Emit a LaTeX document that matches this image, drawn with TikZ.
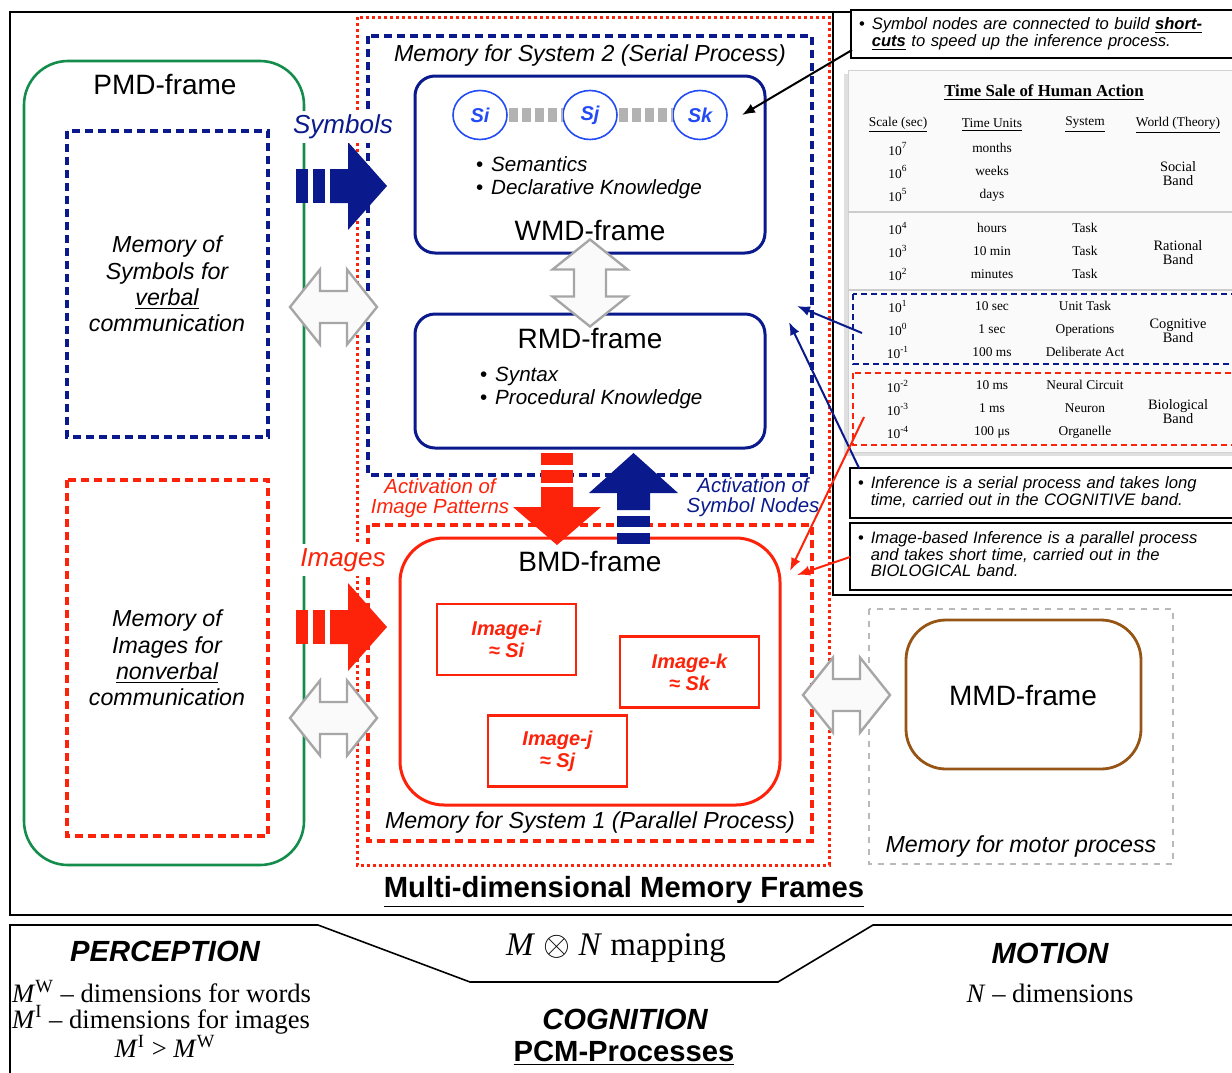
\documentclass[tikz,border=0pt]{standalone}
\usepackage{fontspec}
\setmainfont{Liberation Serif}
\setsansfont{Liberation Sans}
\usetikzlibrary{shapes.geometric,arrows.meta}

\definecolor{azul}{RGB}{10,25,140}
\definecolor{celeste}{RGB}{35,75,245}
\definecolor{rojo}{RGB}{252,35,10}
\definecolor{verde}{RGB}{20,140,75}
\definecolor{cafe}{RGB}{150,85,20}

\newcommand{\fsz}[2]{\fontsize{#1}{#2}\selectfont}
\newcommand{\dimsup}[1]{\textit{M}\smash{\textsuperscript{#1}}}
\newcommand{\dobleflecha}[3]{\draw[dbl, shift={(#1,#2)}, rotate=#3] (-43.5,0) -- (-13.5,-37.5) -- (-13.5,-16) -- (13.5,-16) -- (13.5,-37.5) -- (43.5,0) -- (13.5,37.5) -- (13.5,16) -- (-13.5,16) -- (-13.5,37.5) -- cycle;}

\begin{document}
\begin{tikzpicture}[x=0.5pt,y=-0.5pt]
		\tikzstyle{every node}=[font=\sffamily, inner sep=0pt, outer sep=0pt]
		\tikzstyle{titl} = [font=\sffamily\fsz{14}{16}]
		\tikzstyle{ital} = [font=\sffamily\itshape\fsz{11.6}{13.2}]
		\tikzstyle{dashbox} = [line width=1.7pt, dash pattern=on 4pt off 2.5pt]
		\tikzstyle{dotbox} = [draw=rojo, line width=1.5pt, dash pattern=on 1.4pt off 1.6pt]
		\tikzstyle{wblock} = [draw=azul, line width=1.5pt, rounded corners=10pt, minimum width=175pt]
		\tikzstyle{sym} = [ellipse, draw=celeste, line width=0.8pt, minimum width=27pt, minimum height=24.5pt, text=celeste, font=\sffamily\bfseries\itshape\fsz{10}{12}]
		\tikzstyle{imgbox} = [draw=rojo, line width=1.3pt, minimum width=69.5pt, minimum height=35.5pt, align=center, text=rojo, font=\sffamily\bfseries\itshape\fsz{10}{11}]
		\tikzstyle{note} = [draw, line width=0.8pt, fill=white, text width=187pt, inner xsep=4pt, align=left, font=\sffamily\itshape\fsz{8.3}{7.6}]
		\tikzstyle{cell} = [align=center, font=\rmfamily\fsz{6.7}{11.5}]
		\tikzstyle{band} = [align=center, font=\rmfamily\fsz{7.2}{7}]
		\tikzstyle{dbl} = [draw=gray!70, fill=gray!4, line width=1.2pt]
		\tikzstyle{arr} = [->, line width=1pt, >={Latex[length=6.5pt,width=5pt]}]
		\tikzstyle{big} = [font=\sffamily\bfseries\itshape\fsz{14.6}{16}]
		\tikzstyle{serif} = [font=\rmfamily\fsz{13.3}{12.6}]

		\useasboundingbox (0,0) rectangle (1232,1072);
		% outer frames
		\draw[line width=0.8pt] (10,12) rectangle (1245,915);
		\draw[line width=0.8pt] (10,1080) -- (10,925) -- (318,925) -- (470,982) -- (778,982) -- (873,925) -- (1245,925);

		% PMD-frame
		\node[draw=verde, line width=1.3pt, rounded corners=22pt, minimum width=140pt, minimum height=402pt] (pmd) at (164,463) {};
		\node[titl] (pmdt) at (165,85) {PMD-frame};
		\draw[dashbox, draw=azul] (67,131) rectangle (268,437);
		\draw[dashbox, draw=rojo] (67,480) rectangle (268,836);
		\node[ital, align=center] (verb) at (167,284) {Memory of\\Symbols for\\\underline{verbal}\\communication};
		\node[ital, align=center] (nverb) at (167,658) {Memory of\\Images for\\\underline{nonverbal}\\communication};

		% system 2 / system 1
		\draw[dotbox] (357,17) rectangle (829,865);
		\draw[dashbox, draw=azul] (368,36) rectangle (812,475);
		\draw[dashbox, draw=rojo] (368,525) rectangle (812,841);
		\node[ital] (sys2) at (590,55) {Memory for System 2 (Serial Process)};
		\node[ital] (sys1) at (590,822) {Memory for System 1 (Parallel Process)};

		\node[wblock, minimum height=88.5pt] (wmd) at (590,164.5) {};
		\node[sym] (si) at (480,115) {Si};
		\node[sym] (sj) at (590,115) {Sj};
		\node[sym] (sk) at (700,115) {Sk};
		\draw[gray!60, line width=7pt, dash pattern=on 4.5pt off 2pt, shorten <=1pt] (si) -- (sj);
		\draw[gray!60, line width=7pt, dash pattern=on 4.5pt off 2pt, shorten <=1pt] (sj) -- (sk);
		\node[anchor=west, align=left, font=\sffamily\itshape\fsz{10.3}{11.5}] (wmdl) at (476,178) {{\upshape\textbullet}\hspace{4pt}Semantics\\{\upshape\textbullet}\hspace{4pt}Declarative Knowledge};
		\node[titl] (wmdt) at (590,230) {WMD-frame};

		\node[wblock, minimum height=67pt] (rmd) at (590,381) {};
		\node[titl] (rmdt) at (590,338) {RMD-frame};
		\node[anchor=west, align=left, font=\sffamily\itshape\fsz{10.3}{11.5}] (rmdl) at (480,388) {{\upshape\textbullet}\hspace{4pt}Syntax\\{\upshape\textbullet}\hspace{4pt}Procedural Knowledge};
		\dobleflecha{590}{283}{90}

		\node[draw=rojo, line width=1.5pt, rounded corners=22pt, minimum width=190pt, minimum height=133.5pt] (bmd) at (590,671.5) {};
		\node[titl] (bmdt) at (590,561) {BMD-frame};
		\node[imgbox] (imgi) at (506.5,639.5) {Image-i\\≈ Si};
		\node[imgbox] (imgk) at (689.5,672) {Image-k\\≈ Sk};
		\node[imgbox] (imgj) at (557.5,751) {Image-j\\≈ Sj};

		% activation arrows
		\fill[rojo] (541,453) rectangle (573,465);
		\fill[rojo] (541,470) rectangle (573,483);
		\fill[rojo] (541,487) -- (573,487) -- (573,507) -- (601,507) -- (557,545) -- (513,507) -- (541,507) -- cycle;
		\fill[azul] (617,516) rectangle (650,527);
		\fill[azul] (617,533) rectangle (650,544);
		\fill[azul] (617,510) -- (650,510) -- (650,493) -- (678,493) -- (633.5,453) -- (589,493) -- (617,493) -- cycle;
		\node[align=center, text=rojo, font=\sffamily\itshape\fsz{10.2}{10}] (actimg) at (440,498) {Activation of\\Image Patterns};
		\node[align=center, text=azul, font=\sffamily\itshape\fsz{10.2}{10}] (actsym) at (753,497) {Activation of\\Symbol Nodes};

		% input arrows
		\fill[azul] (296,169) rectangle (308,203);
		\fill[azul] (313,169) rectangle (325,203);
		\fill[azul] (330,169) -- (348,169) -- (348,142) -- (387,186) -- (348,230) -- (348,203) -- (330,203) -- cycle;
		\fill[rojo] (296,610) rectangle (308,644);
		\fill[rojo] (313,610) rectangle (325,644);
		\fill[rojo] (330,610) -- (348,610) -- (348,583) -- (387,627) -- (348,671) -- (348,644) -- (330,644) -- cycle;
		\node[fill=white, inner ysep=2pt, text=azul, font=\sffamily\itshape\fsz{13}{15}] (symb) at (343,127) {Symbols};
		\node[fill=white, inner ysep=2pt, text=rojo, font=\sffamily\itshape\fsz{13}{15}] (imgs) at (343,560) {Images};
		\dobleflecha{333.5}{307}{0}
		\dobleflecha{333.5}{718}{0}

		% motor
		\draw[gray!55, line width=1.3pt, dash pattern=on 3pt off 3pt] (869,609) rectangle (1173,864);
		\node[draw=cafe, line width=1.4pt, rounded corners=20pt, minimum width=117.5pt, minimum height=74.5pt] (mmd) at (1023.5,694.5) {};
		\node[titl] (mmdt) at (1023,695) {MMD-frame};
		\node[ital] (motor) at (1021,846) {Memory for motor process};
		\dobleflecha{846.5}{695}{0}

		\node[font=\sffamily\bfseries\fsz{14.6}{16}] (mdmf) at (624,892) {\underline{Multi-dimensional Memory Frames}};

		% side panel
		\draw[line width=0.8pt, fill=white] (833,12) rectangle (1245,595);
		\fill[gray!25] (844,74) rectangle (1245,456);
		\draw[gray!35, fill=gray!4] (848,70) rectangle (1245,452);
		\node[font=\rmfamily\bfseries\fsz{8.4}{10}] (ttit) at (1044,93) {\underline{Time Sale of Human Action}};
		\node[cell] (h1) at (898,125) {\underline{Scale (sec)}};
		\node[cell] (h2) at (992,125) {\underline{Time Units}};
		\node[cell] (h3) at (1085,125) {\underline{System}};
		\node[cell] (h4) at (1178,125) {\underline{World (Theory)}};
		\node[cell] (sc1) at (898,172) {10\textsuperscript{7}\\10\textsuperscript{6}\\10\textsuperscript{5}};
		\node[cell] (un1) at (992,172) {months\\weeks\\days};
		\node[band] (bd1) at (1178,174) {Social\\Band};
		\draw[gray!40, line width=0.6pt] (848,212) -- (1245,212);
		\node[cell] (sc2) at (898,251) {10\textsuperscript{4}\\10\textsuperscript{3}\\10\textsuperscript{2}};
		\node[cell] (un2) at (992,251) {hours\\10 min\\minutes};
		\node[cell] (sy2) at (1085,251) {Task\\Task\\Task};
		\node[band] (bd2) at (1178,253) {Rational\\Band};
		\draw[gray!40, line width=0.6pt] (848,290) -- (1245,290);
		\draw[azul, line width=1.4pt, dash pattern=on 3pt off 2pt] (853,294) rectangle (1245,364);
		\node[cell] (sc3) at (898,329) {10\textsuperscript{1}\\10\textsuperscript{0}\\10\textsuperscript{-1}};
		\node[cell] (un3) at (992,329) {10 sec\\1 sec\\100 ms};
		\node[cell] (sy3) at (1085,329) {Unit Task\\Operations\\Deliberate Act};
		\node[band] (bd3) at (1178,331) {Cognitive\\Band};
		\draw[rojo, line width=1.4pt, dash pattern=on 3pt off 2pt] (853,373) rectangle (1245,445);
		\node[cell] (sc4) at (898,409.5) {10\textsuperscript{-2}\\10\textsuperscript{-3}\\10\textsuperscript{-4}};
		\node[cell] (un4) at (992,409.5) {10 ms\\1 ms\\100 μs};
		\node[cell] (sy4) at (1085,409.5) {Neural Circuit\\Neuron\\Organelle};
		\node[band] (bd4) at (1178,412) {Biological\\Band};

		\node[note, minimum height=24pt] (n1) at (1046,34) {\begin{tabular}{@{}l@{\hspace{3.5pt}}l@{}}{\upshape\textbullet}&Symbol nodes are connected to build \textbf{\underline{short-}}\\&\textbf{\underline{cuts}} to speed up the inference process.\end{tabular}};
		\node[note, minimum height=25pt] (n2) at (1045,493) {\begin{tabular}{@{}l@{\hspace{3.5pt}}l@{}}{\upshape\textbullet}&Inference is a serial process and takes long\\&time, carried out in the COGNITIVE band.\end{tabular}};
		\node[note, minimum height=33.5pt] (n3) at (1045,556.5) {\begin{tabular}{@{}l@{\hspace{3.5pt}}l@{}}{\upshape\textbullet}&Image-based Inference is a parallel process\\&and takes short time, carried out in the\\&BIOLOGICAL band.\end{tabular}};

		% pointers
		\coordinate (n1a) at (852,50);
		\coordinate (ska) at (742,115);
		\coordinate (cga) at (862,333);
		\coordinate (s2a) at (797,306);
		\coordinate (n2a) at (859,468);
		\coordinate (s2b) at (789,322);
		\coordinate (bga) at (864,417);
		\coordinate (s1a) at (790,571);
		\coordinate (n3a) at (850,557);
		\coordinate (s1b) at (797,575);
		\draw[arr] (n1a) -- (ska);
		\draw[arr, azul] (cga) -- (s2a);
		\draw[arr, azul] (n2a) -- (s2b);
		\draw[arr, rojo] (bga) -- (s1a);
		\draw[arr, rojo] (n3a) -- (s1b);

		% bottom row
		\node[big] (perc) at (165,951) {PERCEPTION};
		\node[serif, anchor=west, align=left] (mdim) at (12,1009) {\dimsup{W} – dimensions for words\\\dimsup{I} – dimensions for images};
		\node[serif] (mcmp) at (165,1049) {\dimsup{I} > \dimsup{W}};
		\node[font=\rmfamily\fsz{16.5}{18}] (mxn) at (616,948) {\textit{M} $\otimes$ \textit{N} mapping};
		\node[big] (cogn) at (625,1019) {COGNITION};
		\node[font=\sffamily\bfseries\fsz{14.6}{16}] (pcm) at (624,1053) {\underline{PCM-Processes}};
		\node[big] (mot) at (1050,953) {MOTION};
		\node[serif] (ndim) at (1050,993) {\textit{N} – dimensions};
	\end{tikzpicture}
\end{document}
